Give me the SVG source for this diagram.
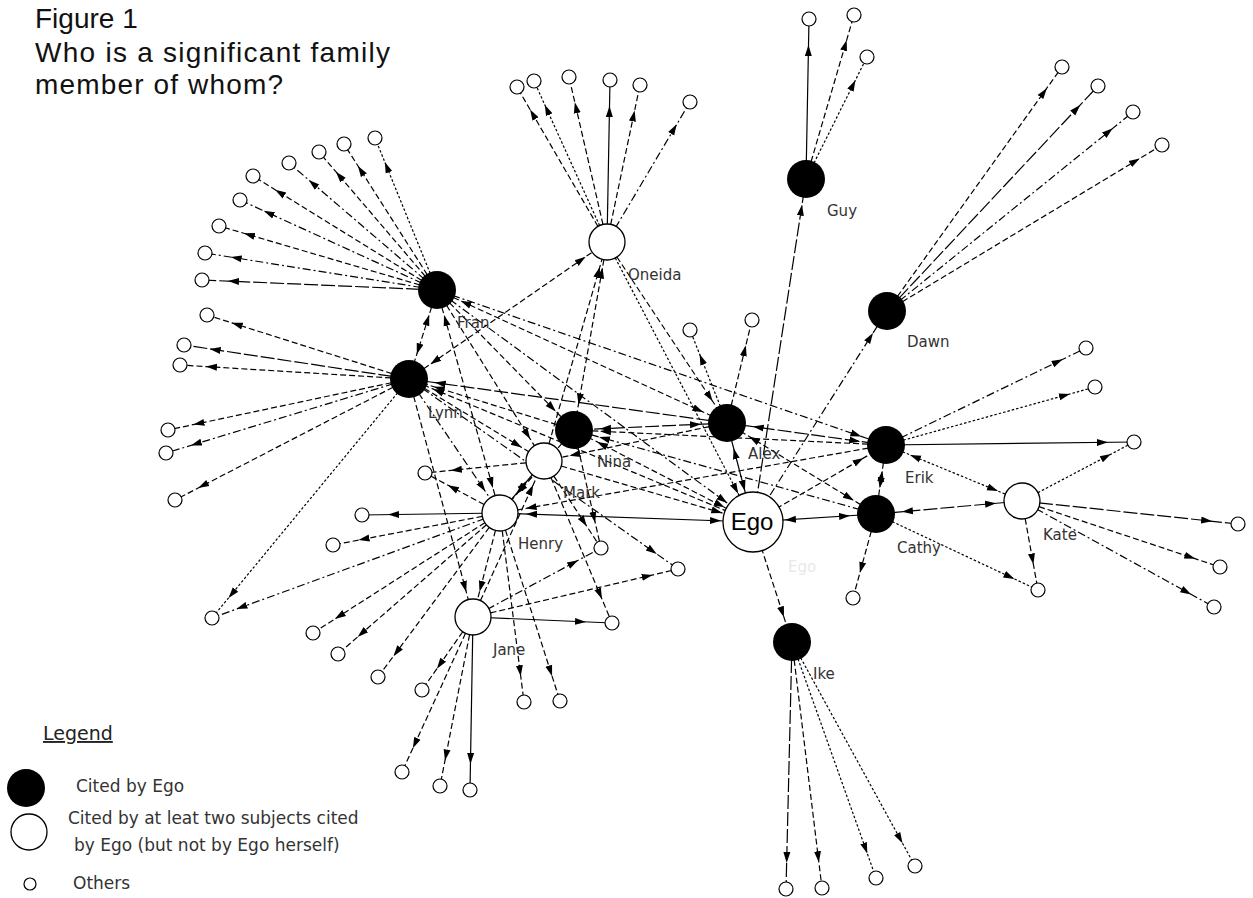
<svg xmlns="http://www.w3.org/2000/svg" width="1253" height="898" viewBox="0 0 1253 898">
<style>
line{stroke:#000;stroke-width:1.2;fill:none}
.d{stroke-dasharray:6 3}
.t{stroke-dasharray:2.5 2}
.dd{stroke-dasharray:8 3 2 3}
.ld{stroke-dasharray:14 3}
.ae{marker-end:url(#ar)}
.ab{marker-end:url(#ar);marker-start:url(#ar)}
.ee{marker-end:url(#ae)}
.bx{marker-start:url(#ae);marker-end:url(#ar)}
.big{fill:#000}
.mid{fill:#fff;stroke:#000;stroke-width:1.3}
.sm{fill:#fff;stroke:#000;stroke-width:1.2}
.lb{font-family:"DejaVu Sans",sans-serif;font-size:15px;fill:#333}
.tt{font-family:"Liberation Sans",Arial,sans-serif;font-size:28px;fill:#111}
.lg{font-family:"DejaVu Sans",sans-serif;font-size:17px;fill:#333}
</style>
<defs>
<marker id="ar" viewBox="0 -5 40 10" refX="37" refY="0" markerWidth="40" markerHeight="10" markerUnits="userSpaceOnUse" orient="auto-start-reverse"><path d="M0,-3.5 L11,0 L0,3.5 z" fill="#000"/></marker>
<marker id="ae" viewBox="0 -5 50 10" refX="43" refY="0" markerWidth="50" markerHeight="10" markerUnits="userSpaceOnUse" orient="auto-start-reverse"><path d="M0,-3.5 L11,0 L0,3.5 z" fill="#000"/></marker>
</defs>
<rect width="1253" height="898" fill="#fff"/>
<g id="title">
<text class="tt" x="35" y="28">Figure 1</text>
<text class="tt" x="35" y="62" textLength="355" lengthAdjust="spacing">Who is a significant family</text>
<text class="tt" x="35" y="94" textLength="248" lengthAdjust="spacing">member of whom?</text>
</g>
<g id="connectors">
<line class="d ae" x1="607" y1="242" x2="517" y2="87"/>
<line class="t ae" x1="607" y1="242" x2="534" y2="81"/>
<line class="d ae" x1="607" y1="242" x2="569" y2="77"/>
<line class="ae" x1="607" y1="242" x2="610" y2="80"/>
<line class="d ae" x1="607" y1="242" x2="640" y2="85"/>
<line class="dd ae" x1="607" y1="242" x2="690" y2="102"/>
<line class="ae" x1="806" y1="179" x2="809" y2="19"/>
<line class="d ae" x1="806" y1="179" x2="854" y2="15"/>
<line class="t ae" x1="806" y1="179" x2="867" y2="57"/>
<line class="d ae" x1="887" y1="311" x2="1062" y2="67"/>
<line class="ld ae" x1="887" y1="311" x2="1098" y2="86"/>
<line class="dd ae" x1="887" y1="311" x2="1133" y2="112"/>
<line class="d ae" x1="887" y1="311" x2="1162" y2="145"/>
<line class="t ae" x1="437" y1="290" x2="375" y2="138"/>
<line class="d ae" x1="437" y1="290" x2="344" y2="144"/>
<line class="d ae" x1="437" y1="290" x2="319" y2="152"/>
<line class="dd ae" x1="437" y1="290" x2="289" y2="163"/>
<line class="d ae" x1="437" y1="290" x2="253" y2="176"/>
<line class="dd ae" x1="437" y1="290" x2="240" y2="200"/>
<line class="d ae" x1="437" y1="290" x2="219" y2="226"/>
<line class="dd ae" x1="437" y1="290" x2="205" y2="253"/>
<line class="ld ae" x1="437" y1="290" x2="202" y2="280"/>
<line class="d ae" x1="409" y1="379" x2="207" y2="315"/>
<line class="ld ae" x1="409" y1="379" x2="184" y2="345"/>
<line class="d ae" x1="409" y1="379" x2="180" y2="365"/>
<line class="d ae" x1="409" y1="379" x2="168" y2="430"/>
<line class="dd ae" x1="409" y1="379" x2="166" y2="453"/>
<line class="d ae" x1="409" y1="379" x2="175" y2="500"/>
<line class="t ae" x1="409" y1="379" x2="212" y2="618"/>
<line class="t ae" x1="727" y1="423" x2="690" y2="330"/>
<line class="d ae" x1="727" y1="423" x2="752" y2="320"/>
<line class="dd ae" x1="886" y1="445" x2="1086" y2="348"/>
<line class="t ae" x1="886" y1="445" x2="1095" y2="387"/>
<line class="ae" x1="886" y1="445" x2="1134" y2="442"/>
<line class="t ae" x1="1022" y1="501" x2="1134" y2="442"/>
<line class="ld ae" x1="1022" y1="501" x2="1238" y2="524"/>
<line class="d ae" x1="1022" y1="501" x2="1220" y2="567"/>
<line class="dd ae" x1="1022" y1="501" x2="1214" y2="607"/>
<line class="d ae" x1="1022" y1="501" x2="1038" y2="590"/>
<line class="t ae" x1="876" y1="514" x2="1038" y2="590"/>
<line class="d ae" x1="876" y1="514" x2="853" y2="598"/>
<line class="ld ae" x1="792" y1="642" x2="786" y2="889"/>
<line class="d ae" x1="792" y1="642" x2="822" y2="888"/>
<line class="t ae" x1="792" y1="642" x2="876" y2="878"/>
<line class="t ae" x1="792" y1="642" x2="915" y2="866"/>
<line class="d ae" x1="500" y1="513" x2="425" y2="473"/>
<line class="d ae" x1="544" y1="461" x2="425" y2="473"/>
<line class="ae" x1="500" y1="513" x2="362" y2="515"/>
<line class="d ae" x1="500" y1="513" x2="333" y2="545"/>
<line class="dd ae" x1="500" y1="513" x2="212" y2="618"/>
<line class="d ae" x1="500" y1="513" x2="313" y2="633"/>
<line class="d ae" x1="500" y1="513" x2="338" y2="654"/>
<line class="d ae" x1="500" y1="513" x2="378" y2="677"/>
<line class="d ae" x1="473" y1="617" x2="422" y2="690"/>
<line class="d ae" x1="473" y1="617" x2="402" y2="772"/>
<line class="d ae" x1="473" y1="617" x2="440" y2="786"/>
<line class="ae" x1="473" y1="617" x2="470" y2="790"/>
<line class="d ae" x1="500" y1="513" x2="524" y2="702"/>
<line class="d ae" x1="500" y1="513" x2="560" y2="701"/>
<line class="ae" x1="473" y1="617" x2="612" y2="623"/>
<line class="d ae" x1="544" y1="461" x2="612" y2="623"/>
<line class="dd ae" x1="473" y1="617" x2="601" y2="548"/>
<line class="d ae" x1="473" y1="617" x2="678" y2="569"/>
<line class="d ae" x1="544" y1="461" x2="601" y2="548"/>
<line class="d ae" x1="574" y1="430" x2="601" y2="548"/>
<line class="dd ae" x1="409" y1="379" x2="678" y2="569"/>
<line class="d ab" x1="437" y1="290" x2="409" y2="379"/>
<line class="d ab" x1="409" y1="379" x2="607" y2="242"/>
<line class="d ab" x1="437" y1="290" x2="727" y2="423"/>
<line class="dd ee" x1="437" y1="290" x2="753" y2="522"/>
<line class="d ae" x1="437" y1="290" x2="574" y2="430"/>
<line class="d ae" x1="437" y1="290" x2="544" y2="461"/>
<line class="d ab" x1="437" y1="290" x2="500" y2="513"/>
<line class="dd ae" x1="437" y1="290" x2="886" y2="445"/>
<line class="d ae" x1="409" y1="379" x2="544" y2="461"/>
<line class="d ae" x1="409" y1="379" x2="473" y2="617"/>
<line class="dd ae" x1="409" y1="379" x2="500" y2="513"/>
<line class="d ae" x1="574" y1="430" x2="409" y2="379"/>
<line class="ld ae" x1="727" y1="423" x2="409" y2="379"/>
<line class="d ae" x1="753" y1="522" x2="409" y2="379"/>
<line class="d ab" x1="607" y1="242" x2="574" y2="430"/>
<line class="d ae" x1="544" y1="461" x2="607" y2="242"/>
<line class="d ae" x1="607" y1="242" x2="727" y2="423"/>
<line class="t ee" x1="607" y1="242" x2="753" y2="522"/>
<line class="ld ab" x1="727" y1="423" x2="574" y2="430"/>
<line class="d ae" x1="886" y1="445" x2="574" y2="430"/>
<line class="d bx" x1="753" y1="522" x2="574" y2="430"/>
<line class="d ae" x1="727" y1="423" x2="544" y2="461"/>
<line class="d ee" x1="544" y1="461" x2="753" y2="522"/>
<line class="bx" x1="753" y1="522" x2="500" y2="513"/>
<line class="ab" x1="500" y1="513" x2="544" y2="461"/>
<line class="d ae" x1="574" y1="430" x2="500" y2="513"/>
<line class="d ae" x1="500" y1="513" x2="473" y2="617"/>
<line class="d ae" x1="473" y1="617" x2="544" y2="461"/>
<line class="ld ab" x1="727" y1="423" x2="886" y2="445"/>
<line class="d ab" x1="876" y1="514" x2="727" y2="423"/>
<line class="bx" x1="753" y1="522" x2="727" y2="423"/>
<line class="d ae" x1="753" y1="522" x2="886" y2="445"/>
<line class="bx" x1="753" y1="522" x2="876" y2="514"/>
<line class="ld ae" x1="753" y1="522" x2="806" y2="179"/>
<line class="dd ae" x1="753" y1="522" x2="887" y2="311"/>
<line class="d ae" x1="753" y1="522" x2="792" y2="642"/>
<line class="d ab" x1="886" y1="445" x2="876" y2="514"/>
<line class="t ab" x1="886" y1="445" x2="1022" y2="501"/>
<line class="ld ab" x1="1022" y1="501" x2="876" y2="514"/>
<line class="dd ae" x1="876" y1="514" x2="574" y2="430"/>
<line class="d ae" x1="886" y1="445" x2="500" y2="513"/>
</g>
<g id="Fran"><circle class="big" cx="437" cy="290" r="19"/><text class="lb" x="457" y="328">Fran</text></g>
<g id="Lynn"><circle class="big" cx="409" cy="379" r="19"/><text class="lb" x="428" y="418">Lynn</text></g>
<g id="Nina"><circle class="big" cx="574" cy="430" r="19"/><text class="lb" x="597" y="467">Nina</text></g>
<g id="Alex"><circle class="big" cx="727" cy="423" r="19"/><text class="lb" x="748" y="459">Alex</text></g>
<g id="Guy"><circle class="big" cx="806" cy="179" r="19"/><text class="lb" x="827" y="216">Guy</text></g>
<g id="Dawn"><circle class="big" cx="887" cy="311" r="19"/><text class="lb" x="907" y="347">Dawn</text></g>
<g id="Erik"><circle class="big" cx="886" cy="445" r="19"/><text class="lb" x="905" y="483">Erik</text></g>
<g id="Cathy"><circle class="big" cx="876" cy="514" r="19"/><text class="lb" x="897" y="553">Cathy</text></g>
<g id="Ike"><circle class="big" cx="792" cy="642" r="19"/><text class="lb" x="813" y="679">Ike</text></g>
<g id="Oneida"><circle class="mid" cx="607" cy="242" r="18"/><text class="lb" x="628" y="280">Oneida</text></g>
<g id="Mark"><circle class="mid" cx="544" cy="461" r="18"/><text class="lb" x="563" y="498">Mark</text></g>
<g id="Henry"><circle class="mid" cx="500" cy="513" r="18"/><text class="lb" x="518" y="549">Henry</text></g>
<g id="Jane"><circle class="mid" cx="473" cy="617" r="18"/><text class="lb" x="493" y="655">Jane</text></g>
<g id="Kate"><circle class="mid" cx="1022" cy="501" r="18"/><text class="lb" x="1043" y="540">Kate</text></g>
<g id="Ego"><circle class="mid" cx="753" cy="522" r="30"/><text x="752" y="530" text-anchor="middle" font-family="Liberation Sans, Arial, sans-serif" font-size="24" fill="#000">Ego</text><text class="lb" x="788" y="572" style="fill:#e8e8e8">Ego</text></g>
<g id="others">
<circle class="sm" cx="517" cy="87" r="7"/><circle class="sm" cx="534" cy="81" r="7"/><circle class="sm" cx="569" cy="77" r="7"/><circle class="sm" cx="610" cy="80" r="7"/><circle class="sm" cx="640" cy="85" r="7"/><circle class="sm" cx="690" cy="102" r="7"/>
<circle class="sm" cx="809" cy="19" r="7"/><circle class="sm" cx="854" cy="15" r="7"/><circle class="sm" cx="867" cy="57" r="7"/>
<circle class="sm" cx="1062" cy="67" r="7"/><circle class="sm" cx="1098" cy="86" r="7"/><circle class="sm" cx="1133" cy="112" r="7"/><circle class="sm" cx="1162" cy="145" r="7"/>
<circle class="sm" cx="375" cy="138" r="7"/><circle class="sm" cx="344" cy="144" r="7"/><circle class="sm" cx="319" cy="152" r="7"/><circle class="sm" cx="289" cy="163" r="7"/><circle class="sm" cx="253" cy="176" r="7"/><circle class="sm" cx="240" cy="200" r="7"/><circle class="sm" cx="219" cy="226" r="7"/><circle class="sm" cx="205" cy="253" r="7"/><circle class="sm" cx="202" cy="280" r="7"/>
<circle class="sm" cx="207" cy="315" r="7"/><circle class="sm" cx="184" cy="345" r="7"/><circle class="sm" cx="180" cy="365" r="7"/><circle class="sm" cx="168" cy="430" r="7"/><circle class="sm" cx="166" cy="453" r="7"/><circle class="sm" cx="175" cy="500" r="7"/><circle class="sm" cx="212" cy="618" r="7"/>
<circle class="sm" cx="690" cy="330" r="7"/><circle class="sm" cx="752" cy="320" r="7"/>
<circle class="sm" cx="1086" cy="348" r="7"/><circle class="sm" cx="1095" cy="387" r="7"/><circle class="sm" cx="1134" cy="442" r="7"/>
<circle class="sm" cx="1238" cy="524" r="7"/><circle class="sm" cx="1220" cy="567" r="7"/><circle class="sm" cx="1214" cy="607" r="7"/><circle class="sm" cx="1038" cy="590" r="7"/><circle class="sm" cx="853" cy="598" r="7"/>
<circle class="sm" cx="786" cy="889" r="7"/><circle class="sm" cx="822" cy="888" r="7"/><circle class="sm" cx="876" cy="878" r="7"/><circle class="sm" cx="915" cy="866" r="7"/>
<circle class="sm" cx="425" cy="473" r="7"/><circle class="sm" cx="362" cy="515" r="7"/><circle class="sm" cx="333" cy="545" r="7"/><circle class="sm" cx="313" cy="633" r="7"/><circle class="sm" cx="338" cy="654" r="7"/><circle class="sm" cx="378" cy="677" r="7"/><circle class="sm" cx="422" cy="690" r="7"/>
<circle class="sm" cx="601" cy="548" r="7"/><circle class="sm" cx="678" cy="569" r="7"/><circle class="sm" cx="612" cy="623" r="7"/><circle class="sm" cx="524" cy="702" r="7"/><circle class="sm" cx="560" cy="701" r="7"/><circle class="sm" cx="402" cy="772" r="7"/><circle class="sm" cx="440" cy="786" r="7"/><circle class="sm" cx="470" cy="790" r="7"/>
</g>
<g id="legend">
<text x="43" y="740" font-family="DejaVu Sans, sans-serif" font-size="19" fill="#222" text-decoration="underline">Legend</text>
<circle class="big" cx="26" cy="788" r="19"/>
<text class="lg" x="76" y="792">Cited by Ego</text>
<circle class="mid" cx="29" cy="832" r="18"/>
<text class="lg" x="68" y="824">Cited by at leat two subjects cited</text>
<text class="lg" x="74" y="851">by Ego (but not by Ego herself)</text>
<circle class="sm" cx="30" cy="884" r="6"/>
<text class="lg" x="73" y="889">Others</text>
</g>
</svg>
